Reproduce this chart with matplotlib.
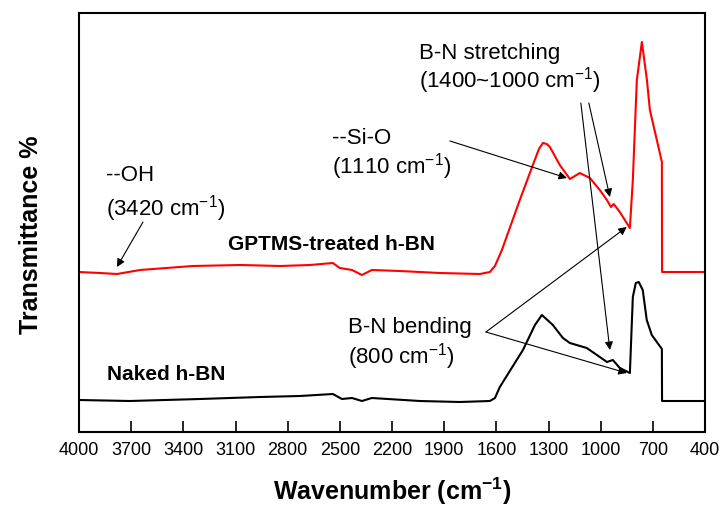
import matplotlib
matplotlib.use("Agg")
import matplotlib.pyplot as plt

plt.rcParams['font.family'] = ['Liberation Sans', 'DejaVu Sans']
plt.rcParams['mathtext.fontset'] = 'custom'
plt.rcParams['mathtext.rm'] = 'Liberation Sans'
plt.rcParams['mathtext.bf'] = 'Liberation Sans:bold'

# GPTMS-treated h-BN (red), arbitrary transmittance units
wn_red = [4000, 3879, 3782, 3649, 3345, 3074, 2844, 2672, 2540, 2500, 2430, 2373, 2316,
          2155, 1925, 1695, 1637, 1608, 1568, 1465, 1390, 1355, 1332, 1310, 1292, 1235, 1177, 1120,
          1062, 1005, 964, 941, 925, 890, 832, 815, 792, 763, 734, 717, 677, 648, 647, 400]
tr_red = [160, 159, 158, 162, 166, 167, 166, 167, 169, 164, 162, 157, 162,
          161, 159, 158, 160, 166, 182, 232, 267, 283, 289, 288, 285, 267, 253, 259,
          254, 242, 232, 225, 228, 220, 204, 252, 352, 390, 352, 322, 292, 270, 160, 160]

# Naked h-BN (black)
wn_black = [4000, 3707, 3304, 2959, 2729, 2540, 2488, 2430, 2373, 2316, 2040, 1810, 1637,
            1608, 1580, 1447, 1378, 1338, 1275, 1217, 1177, 1080, 1005, 964, 930, 890,
            832, 815, 798, 781, 758, 735, 706, 648, 647, 400]
tr_black = [32, 31, 33, 35, 36, 38, 33, 34, 31, 34, 31, 30, 31,
            34, 45, 82, 107, 117, 107, 94, 89, 84, 75, 70, 72, 64,
            59, 135, 149, 150, 142, 112, 97, 83, 31, 31]

xticks = [4000, 3700, 3400, 3100, 2800, 2500, 2200, 1900, 1600, 1300, 1000, 700, 400]

fig = plt.figure(figsize=(7.21, 5.07), dpi=100)
ax = fig.add_axes([79/721, 1-432/507, (705-79)/721, (432-13)/507])

ax.plot(wn_red, tr_red, color='#ff0000', lw=1.5)
ax.plot(wn_black, tr_black, color='black', lw=1.5)

ax.set_xlim(4000, 400)
ax.set_ylim(0, 419)
ax.set_xticks(xticks)
ax.set_yticks([])
ax.tick_params(axis='x', direction='in', length=8, width=1.2, labelsize=13, pad=7)
for s in ax.spines.values():
    s.set_linewidth(1.5)

ax.set_xlabel(r'Wavenumber (cm$^{\mathbf{-1}}$)', fontsize=18, fontweight='bold', labelpad=12)
ax.set_ylabel('Transmittance %', fontsize=18, fontweight='bold')
ax.yaxis.set_label_coords(-0.058, 0.47)

fs = 16
ax.text(3845, 251, '--OH', fontsize=fs, va='baseline')
ax.text(3845, 216, r'(3420 cm$^{-1}$)', fontsize=fs, va='baseline')
ax.text(3143, 187, 'GPTMS-treated h-BN', fontsize=15, fontweight='bold', va='center')
ax.text(3839, 57, 'Naked h-BN', fontsize=15, fontweight='bold', va='center')
ax.text(2545, 288, '--Si-O', fontsize=fs, va='baseline')
ax.text(2545, 259, r'(1110 cm$^{-1}$)', fontsize=fs, va='baseline')
ax.text(2045, 373, 'B-N stretching', fontsize=fs, va='baseline')
ax.text(2045, 344, r'(1400~1000 cm$^{-1}$)', fontsize=fs, va='baseline')
ax.text(2453, 99, 'B-N bending', fontsize=fs, va='baseline')
ax.text(2453, 68, r'(800 cm$^{-1}$)', fontsize=fs, va='baseline')

ap = dict(arrowstyle='-|>', lw=0.8, color='black', mutation_scale=12, shrinkA=0, shrinkB=0)
ax.annotate('', xy=(3782, 165), xytext=(3632, 210), arrowprops=ap)
ax.annotate('', xy=(1194, 254), xytext=(1867, 291), arrowprops=ap)
ax.annotate('', xy=(947, 82), xytext=(1114, 329), arrowprops=ap)
ax.annotate('', xy=(947, 235), xytext=(1068, 329), arrowprops=ap)
ax.annotate('', xy=(850, 205), xytext=(1660, 100), arrowprops=ap)
ax.annotate('', xy=(850, 59), xytext=(1660, 100), arrowprops=ap)

fig.savefig('out.png', dpi=100)
